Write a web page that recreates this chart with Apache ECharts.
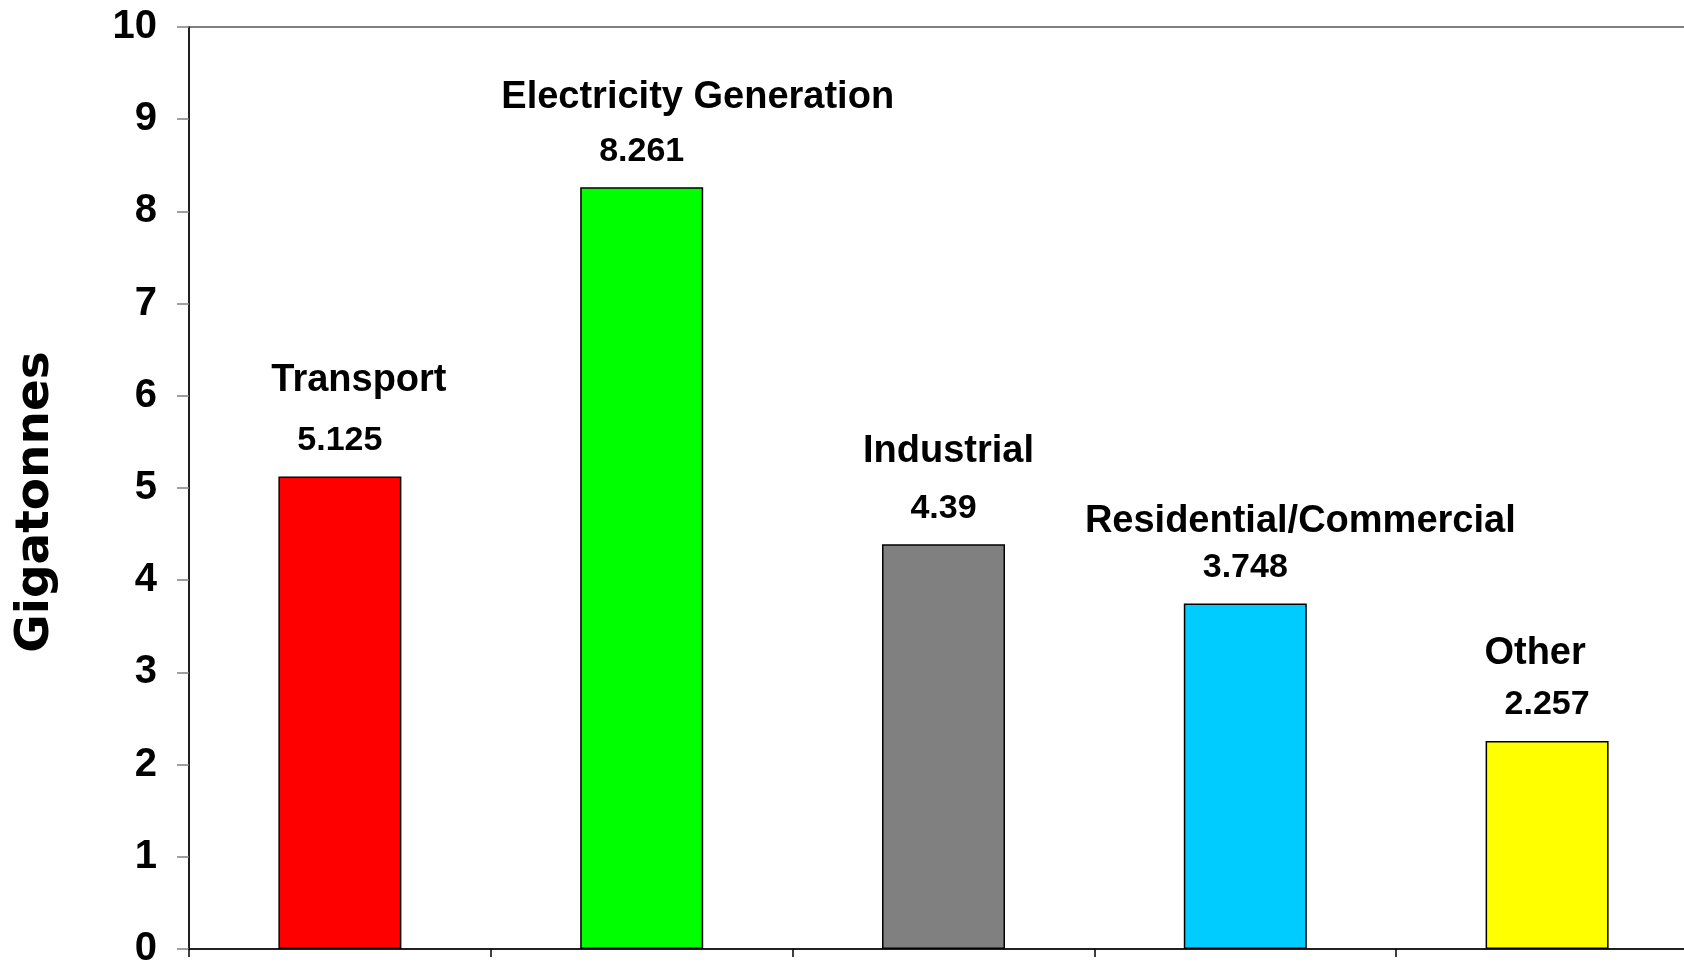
<!DOCTYPE html>
<html>
<head>
<meta charset="utf-8">
<title>Gigatonnes by sector</title>
<script src="https://cdn.jsdelivr.net/npm/echarts@6/dist/echarts.min.js"></script>
<style>
  html, body { margin: 0; padding: 0; background: #ffffff; }
  #chart { width: 1684px; height: 966px; }
</style>
</head>
<body>
<div id="chart"></div>
<script>
// Emissions by sector, in gigatonnes
const sectors = ['Transport', 'Electricity Generation', 'Industrial', 'Residential/Commercial', 'Other'];
const gigatonnes = [5.125, 8.261, 4.39, 3.748, 2.257];
const valueLabels = ['5.125', '8.261', '4.39', '3.748', '2.257'];
const yTicks = [0, 1, 2, 3, 4, 5, 6, 7, 8, 9, 10];

// Presentation: bar fills and hand-placed offsets of the sector names
const barColors = ['#FF0000', '#00FF00', '#808080', '#00CCFF', '#FFFF00'];
const nameOffsets = [[19, -96], [56, -90], [5, -93], [55, -82], [-12, -87]];

const labelFont = "'Liberation Sans', Arial, sans-serif";

const chart = echarts.init(document.getElementById('chart'), null, { renderer: 'canvas' });

chart.setOption({
  backgroundColor: '#ffffff',
  animation: false,
  grid: {
    left: 189,
    top: 27,
    width: 1509,
    height: 922,
    outerBoundsMode: 'none',
    containLabel: false,
    show: true,
    borderColor: '#808080',
    borderWidth: 2,
    backgroundColor: 'transparent'
  },
  xAxis: {
    type: 'category',
    data: sectors,
    axisLine: { show: true, lineStyle: { color: '#000000', width: 1.5 } },
    axisTick: { show: true, length: 8, lineStyle: { color: '#000000', width: 1.5 } },
    axisLabel: { show: false },
    splitLine: { show: false }
  },
  yAxis: {
    type: 'value',
    min: yTicks[0],
    max: yTicks[yTicks.length - 1],
    interval: 1,
    axisLine: { show: true, lineStyle: { color: '#000000', width: 1.5 } },
    axisTick: { show: true, length: 12, lineStyle: { color: '#808080', width: 1.5 } },
    axisLabel: {
      margin: 32,
      color: '#000000',
      fontFamily: labelFont,
      fontWeight: 'bold',
      fontSize: 40
    },
    splitLine: { show: false }
  },
  graphic: [{
    type: 'text',
    x: 36,
    y: 502,
    rotation: Math.PI / 2,
    style: {
      text: 'Gigatonnes',
      fill: '#000000',
      font: "bold 47px 'DejaVu Sans', sans-serif",
      textAlign: 'center',
      textVerticalAlign: 'middle'
    }
  }],
  series: [
    {
      name: 'Gigatonnes',
      type: 'bar',
      barWidth: 123,
      z: 2,
      data: gigatonnes.map((v, i) => ({
        value: v,
        itemStyle: { color: barColors[i] }
      })),
      itemStyle: { borderColor: '#000000', borderWidth: 1.5 },
      label: {
        show: true,
        position: 'top',
        distance: 36,
        verticalAlign: 'middle',
        color: '#000000',
        fontFamily: labelFont,
        fontWeight: 'bold',
        fontSize: 34,
        formatter: (p) => valueLabels[p.dataIndex]
      }
    },
    {
      name: 'Sector',
      type: 'bar',
      barWidth: 123,
      barGap: '-100%',
      z: 3,
      silent: true,
      data: gigatonnes.map((v, i) => ({
        value: v,
        label: { offset: nameOffsets[i] }
      })),
      itemStyle: { color: 'rgba(0,0,0,0)', borderWidth: 0 },
      label: {
        show: true,
        position: 'top',
        distance: 0,
        verticalAlign: 'middle',
        color: '#000000',
        fontFamily: labelFont,
        fontWeight: 'bold',
        fontSize: 38,
        formatter: (p) => sectors[p.dataIndex]
      }
    }
  ]
});
</script>
</body>
</html>
